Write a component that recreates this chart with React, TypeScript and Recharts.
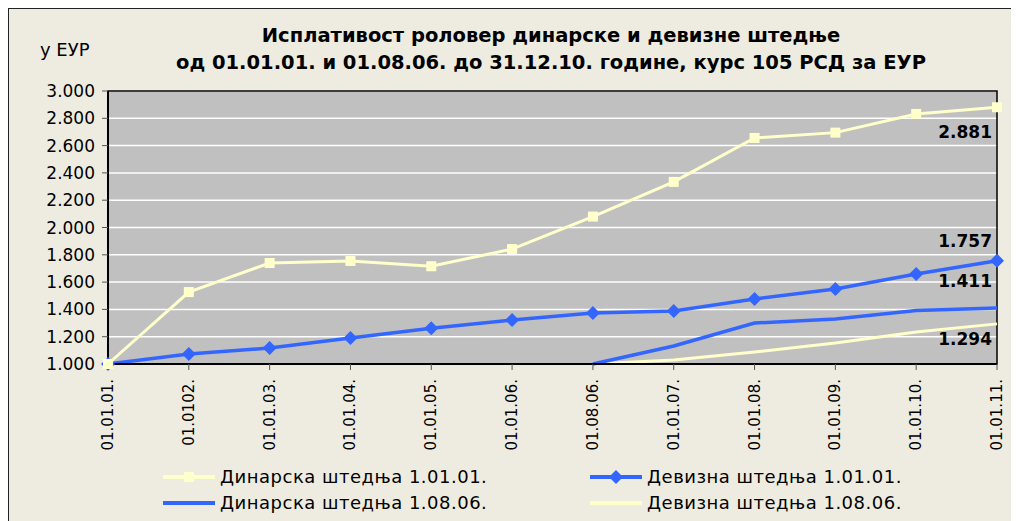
import React from "react";
import {
  LineChart,
  Line,
  XAxis,
  YAxis,
  CartesianGrid,
  ReferenceArea,
  LabelList,
} from "recharts";

// categories on the x axis (dates as written in the source chart)
const categories = [
  "01.01.01.",
  "01.0102.",
  "01.01.03.",
  "01.01.04.",
  "01.01.05.",
  "01.01.06.",
  "01.08.06.",
  "01.01.07.",
  "01.01.08.",
  "01.01.09.",
  "01.01.10.",
  "01.01.11.",
];

// values in EUR
const dinarska0101 = [1000, 1527, 1740, 1755, 1716, 1842, 2080, 2334, 2656, 2695, 2832, 2881];
const devizna0101 = [1000, 1073, 1117, 1190, 1262, 1322, 1374, 1388, 1476, 1550, 1660, 1757];
const dinarska0108 = [null, null, null, null, null, null, 1000, 1132, 1300, 1330, 1392, 1411];
const devizna0108 = [null, null, null, null, null, null, 1000, 1030, 1088, 1154, 1234, 1294];

const yTicks = [1000, 1200, 1400, 1600, 1800, 2000, 2200, 2400, 2600, 2800, 3000];

const seriesNames = [
  "Динарска штедња 1.01.01.",
  "Девизна штедња 1.01.01.",
  "Динарска штедња 1.08.06.",
  "Девизна штедња 1.08.06.",
];

const titleLines = [
  "Исплативост роловер динарске и девизне штедње",
  "од 01.01.01. и 01.08.06. до 31.12.10. године, курс 105 РСД за ЕУР",
];

const YELLOW = "#FFFFCC";
const BLUE = "#3366FF";
const FONT = "'DejaVu Sans', Arial, sans-serif";

const data = categories.map((c, i) => ({
  name: c,
  din1: dinarska0101[i],
  dev1: devizna0101[i],
  din2: dinarska0108[i],
  dev2: devizna0108[i],
}));

const fmt = (v: number) =>
  `${Math.floor(v / 1000)}.${String(Math.round(v % 1000)).padStart(3, "0")}`;

const SquareDot = (props: any) => {
  const { cx, cy } = props;
  if (cx == null || cy == null) return null;
  return <rect x={cx - 5} y={cy - 5} width={10} height={10} fill={YELLOW} />;
};

const DiamondDot = (props: any) => {
  const { cx, cy } = props;
  if (cx == null || cy == null) return null;
  return (
    <polygon
      points={`${cx},${cy - 7} ${cx + 7},${cy} ${cx},${cy + 7} ${cx - 7},${cy}`}
      fill={BLUE}
    />
  );
};

// label only on the last point, shifted up or down
const lastLabel = (dy: number) => (props: any) => {
  const { x, y, value, index } = props;
  if (index !== categories.length - 1 || value == null) return null;
  return (
    <text
      x={x - 5}
      y={y + dy}
      textAnchor="end"
      dominantBaseline="central"
      fontFamily={FONT}
      fontWeight="bold"
      fontSize={17}
      fill="#000"
    >
      {fmt(value)}
    </text>
  );
};

const XTick = (props: any) => {
  const { x, y, payload } = props;
  return (
    <text
      x={x}
      y={y + 7}
      transform={`rotate(-90, ${x}, ${y + 7})`}
      textAnchor="end"
      dominantBaseline="central"
      fontFamily={FONT}
      fontSize={15}
      fill="#000"
    >
      {payload.value}
    </text>
  );
};

const LegendIcon = ({ color, marker }: { color: string; marker?: string }) => (
  <svg width={52} height={14} style={{ marginRight: 5 }}>
    <line x1={0} y1={7} x2={52} y2={7} stroke={color} strokeWidth={4} />
    {marker === "square" && <rect x={21} y={2} width={10} height={10} fill={color} />}
    {marker === "diamond" && <polygon points="26,0 33,7 26,14 19,7" fill={color} />}
  </svg>
);

const legendItems = [
  { name: seriesNames[0], color: YELLOW, marker: "square", left: 154, top: 457 },
  { name: seriesNames[1], color: BLUE, marker: "diamond", left: 581, top: 457 },
  { name: seriesNames[2], color: BLUE, marker: undefined, left: 154, top: 483 },
  { name: seriesNames[3], color: YELLOW, marker: undefined, left: 581, top: 483 },
];

export default function App() {
  return (
    <div
      style={{
        position: "relative",
        width: 1010,
        height: 512,
        background: "#EEECE1",
        borderTop: "1px solid #222",
        borderLeft: "1px solid #222",
        fontFamily: FONT,
      }}
    >
      <div
        style={{
          position: "absolute",
          left: 0,
          width: 1084,
          top: 13,
          textAlign: "center",
          fontWeight: "bold",
          fontSize: 19.5,
          lineHeight: "27px",
        }}
      >
        {titleLines.map((t) => (
          <div key={t}>{t}</div>
        ))}
      </div>
      <div style={{ position: "absolute", left: 31, top: 30, fontSize: 18 }}>у ЕУР</div>

      <LineChart
        width={1010}
        height={512}
        data={data}
        margin={{ top: 82, right: 22, left: 29, bottom: 57 }}
      >
        <CartesianGrid vertical={false} stroke="#FFFFFF" strokeWidth={1.5} fill="#C0C0C0" fillOpacity={1} />
        <ReferenceArea
          x1={categories[0]}
          x2={categories[categories.length - 1]}
          y1={1000}
          y2={3000}
          fill="none"
          stroke="#000"
          strokeWidth={1.5}
        />
        <XAxis
          dataKey="name"
          scale="point"
          padding={{ left: 0, right: 0 }}
          interval={0}
          height={100}
          tick={<XTick />}
          tickSize={6}
          axisLine={{ stroke: "#000", strokeWidth: 2 }}
          tickLine={{ stroke: "#555" }}
        />
        <YAxis
          width={70}
          domain={[1000, 3000]}
          ticks={yTicks}
          interval={0}
          tickFormatter={fmt}
          tickSize={6}
          tick={{ fill: "#000", fontSize: 17, fontFamily: FONT, dx: -5 }}
          axisLine={{ stroke: "#000", strokeWidth: 2 }}
          tickLine={{ stroke: "#555" }}
        />
        <Line
          type="linear"
          dataKey="dev2"
          stroke={YELLOW}
          strokeWidth={3}
          dot={false}
          isAnimationActive={false}
        >
          <LabelList dataKey="dev2" content={lastLabel(15)} />
        </Line>
        <Line
          type="linear"
          dataKey="din2"
          stroke={BLUE}
          strokeWidth={3.5}
          dot={false}
          isAnimationActive={false}
        >
          <LabelList dataKey="din2" content={lastLabel(-27)} />
        </Line>
        <Line
          type="linear"
          dataKey="dev1"
          stroke={BLUE}
          strokeWidth={3.5}
          dot={<DiamondDot />}
          isAnimationActive={false}
        >
          <LabelList dataKey="dev1" content={lastLabel(-20)} />
        </Line>
        <Line
          type="linear"
          dataKey="din1"
          stroke={YELLOW}
          strokeWidth={3}
          dot={<SquareDot />}
          isAnimationActive={false}
        >
          <LabelList dataKey="din1" content={lastLabel(25)} />
        </Line>
      </LineChart>

      {legendItems.map((it) => (
        <div
          key={it.name}
          style={{
            position: "absolute",
            left: it.left,
            top: it.top,
            display: "flex",
            alignItems: "center",
            fontSize: 18,
            letterSpacing: 0.5,
            whiteSpace: "nowrap",
          }}
        >
          <LegendIcon color={it.color} marker={it.marker} />
          <span>{it.name}</span>
        </div>
      ))}
    </div>
  );
}
